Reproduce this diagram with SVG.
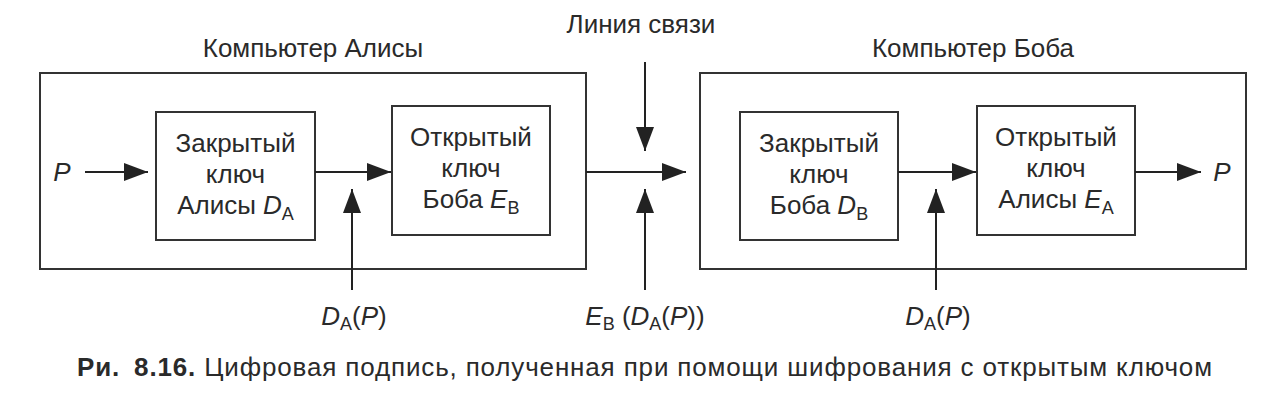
<svg xmlns="http://www.w3.org/2000/svg" width="1280" height="407" viewBox="0 0 1280 407">
  <defs>
    <marker id="ah" markerUnits="userSpaceOnUse" markerWidth="26" markerHeight="20" refX="24" refY="9" orient="auto">
      <path d="M0,0 L24,9 L0,18 Z" fill="#222"/>
    </marker>
    <style>
      .box { fill: none; stroke: #333; stroke-width: 2; }
      .ln { fill: none; stroke: #222; stroke-width: 2; }
      .t { font-family: "Liberation Sans", Arial, sans-serif; font-size: 26px; fill: #2a2a2a; text-anchor: middle; }
      .i { font-style: italic; }
      .sub { font-size: 18px; }
      .cap { font-family: "Liberation Sans", Arial, sans-serif; font-size: 26px; fill: #2a2a2a; }
    </style>
  </defs>
  <rect width="1280" height="407" fill="#fff"/>

  <g id="alice-computer">
    <rect class="box" x="40" y="73" width="546" height="196"/>
    <text class="t" x="313" y="57">Компьютер Алисы</text>
  </g>
  <g id="bob-computer">
    <rect class="box" x="700" y="73" width="546" height="196"/>
    <text class="t" x="973" y="57">Компьютер Боба</text>
  </g>

  <g id="alice-private">
    <rect class="box" x="156" y="112" width="159" height="128"/>
    <text class="t" x="235.5" y="152">Закрытый</text>
    <text class="t" x="235.5" y="183">ключ</text>
    <text class="t" x="235.5" y="214">Алисы <tspan class="i">D</tspan><tspan class="sub" dy="6">A</tspan></text>
  </g>
  <g id="bob-public">
    <rect class="box" x="392" y="106" width="158" height="129"/>
    <text class="t" x="471" y="146">Открытый</text>
    <text class="t" x="471" y="177">ключ</text>
    <text class="t" x="471" y="208">Боба <tspan class="i">E</tspan><tspan class="sub" dy="6">B</tspan></text>
  </g>
  <g id="bob-private">
    <rect class="box" x="740" y="112" width="158" height="128"/>
    <text class="t" x="819" y="152">Закрытый</text>
    <text class="t" x="819" y="183">ключ</text>
    <text class="t" x="819" y="214">Боба <tspan class="i">D</tspan><tspan class="sub" dy="6">B</tspan></text>
  </g>
  <g id="alice-public">
    <rect class="box" x="977" y="106" width="158" height="129"/>
    <text class="t" x="1056" y="146">Открытый</text>
    <text class="t" x="1056" y="177">ключ</text>
    <text class="t" x="1056" y="208">Алисы <tspan class="i">E</tspan><tspan class="sub" dy="6">A</tspan></text>
  </g>

  <g id="labels">
    <text class="t i" x="62" y="181">P</text>
    <text class="t i" x="1222" y="181">P</text>
    <text class="t" x="641" y="33">Линия связи</text>
    <text class="t" x="354" y="325"><tspan class="i">D</tspan><tspan class="sub" dy="5">A</tspan><tspan dy="-5">(</tspan><tspan class="i">P</tspan>)</text>
    <text class="t" x="645" y="325"><tspan class="i">E</tspan><tspan class="sub" dy="5">B</tspan><tspan dy="-5"> (</tspan><tspan class="i">D</tspan><tspan class="sub" dy="5">A</tspan><tspan dy="-5">(</tspan><tspan class="i">P</tspan>))</text>
    <text class="t" x="938" y="325"><tspan class="i">D</tspan><tspan class="sub" dy="5">A</tspan><tspan dy="-5">(</tspan><tspan class="i">P</tspan>)</text>
  </g>

  <g id="connectors">
    <line class="ln" x1="85" y1="172" x2="148" y2="172" marker-end="url(#ah)"/>
    <line class="ln" x1="315" y1="172" x2="391" y2="172" marker-end="url(#ah)"/>
    <line class="ln" x1="352" y1="290" x2="352" y2="189" marker-end="url(#ah)"/>
    <line class="ln" x1="586" y1="172" x2="686" y2="172" marker-end="url(#ah)"/>
    <line class="ln" x1="645" y1="62" x2="645" y2="151" marker-end="url(#ah)"/>
    <line class="ln" x1="645" y1="290" x2="645" y2="189" marker-end="url(#ah)"/>
    <line class="ln" x1="898" y1="172" x2="976" y2="172" marker-end="url(#ah)"/>
    <line class="ln" x1="936" y1="290" x2="936" y2="189" marker-end="url(#ah)"/>
    <line class="ln" x1="1135" y1="172" x2="1201" y2="172" marker-end="url(#ah)"/>
  </g>

  <g id="caption">
    <text class="cap" x="77" y="376" textLength="1135" lengthAdjust="spacing"><tspan font-weight="bold">Ри.</tspan><tspan font-weight="bold" dx="14">8.16.</tspan> Цифровая подпись, полученная при помощи шифрования с открытым ключом</text>
  </g>
</svg>
